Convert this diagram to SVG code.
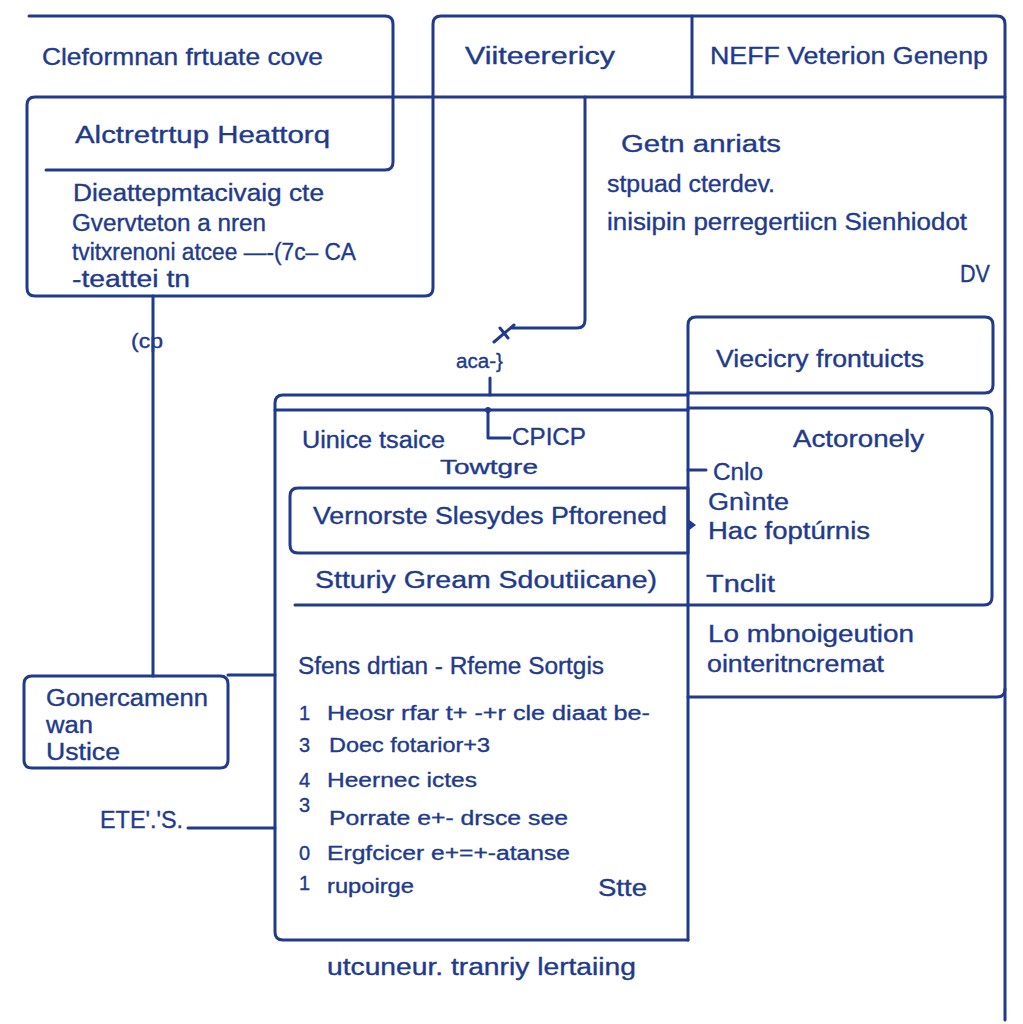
<svg xmlns="http://www.w3.org/2000/svg" width="1023" height="1024" viewBox="0 0 1023 1024">
<style>
.l{fill:none;stroke:#213a8c;stroke-width:3;stroke-linecap:round;stroke-linejoin:round}
.t{font-family:"Liberation Sans",Arial,sans-serif;fill:#213a8c;font-size:23px;stroke:#213a8c;stroke-width:0.35}
.s{font-size:20px}
.b{font-size:24px}
</style>
<rect width="1023" height="1024" fill="#fff"/>
<g id="connectors" class="l">
<path d="M29 16 H385 Q393 16 393 24 V162 Q393 170 385 170 H46"/>
<path d="M433 97 H1005"/>
<path d="M433 97 V24 Q433 16 441 16 H997 Q1005 16 1005 24 V1020"/>
<path d="M692 16 V97"/>
<path d="M585 97 V320 Q585 328 577 328 H512"/>
<path d="M494 342 L514 325"/>
<path d="M500 328 L508 338"/>
<path d="M153 296 V676"/>
<path d="M490 378 V395"/>
<path d="M488 410 V438 H510"/>
<path d="M228 675 H275"/>
<path d="M188 828 H275"/>
<path d="M688 470 H706"/>
<path d="M688 393 V940"/>
<path d="M688 697 H997 Q1005 697 1005 689"/>
<path d="M295 605 H688"/>
</g>
<circle cx="488" cy="410" r="3" fill="#213a8c"/>
<path d="M688 519 L696 525 L688 531 Z" fill="#213a8c"/>
<g id="n1"><text class="t b" x="42" y="65" textLength="281" lengthAdjust="spacingAndGlyphs">Cleformnan frtuate cove</text></g>
<g id="n2"><path class="l" d="M35 97 H433 V288 Q433 296 425 296 H35 Q27 296 27 288 V105 Q27 97 35 97"/>
<text class="t" x="75" y="143" textLength="255" lengthAdjust="spacingAndGlyphs">Alctretrtup Heattorq</text>
<text class="t" x="73" y="201" textLength="251" lengthAdjust="spacingAndGlyphs">Dieattepmtacivaig cte</text>
<text class="t" x="72" y="231" textLength="194" lengthAdjust="spacingAndGlyphs">Gvervteton a nren</text>
<text class="t" x="72" y="260" textLength="284" lengthAdjust="spacingAndGlyphs">tvitxrenoni atcee —-(7c– CA</text>
<text class="t" x="72" y="287" textLength="118" lengthAdjust="spacingAndGlyphs">-teattei tn</text></g>
<g id="n3"><text class="t" x="465" y="64" textLength="150" lengthAdjust="spacingAndGlyphs">Viiteerericy</text></g>
<g id="n4"><text class="t" x="710" y="64" textLength="278" lengthAdjust="spacingAndGlyphs">NEFF Veterion Genenp</text></g>
<g id="n5"><text class="t" x="621" y="152" textLength="160" lengthAdjust="spacingAndGlyphs">Getn anriats</text>
<text class="t" x="607" y="192" textLength="168" lengthAdjust="spacingAndGlyphs">stpuad cterdev.</text>
<text class="t" x="607" y="230" textLength="360" lengthAdjust="spacingAndGlyphs">inisipin perregertiicn Sienhiodot</text>
<text class="t b" x="960" y="282" textLength="30" lengthAdjust="spacingAndGlyphs">DV</text></g>
<g id="labels"><text class="t s" x="131" y="348" textLength="32" lengthAdjust="spacingAndGlyphs">(cp</text>
<text class="t s" x="456" y="368" textLength="47" lengthAdjust="spacingAndGlyphs">aca-}</text>
<text class="t" x="100" y="828" textLength="83" lengthAdjust="spacingAndGlyphs">ETE'.'S.</text></g>
<g id="n6"><path class="l" d="M688 393 V325 Q688 317 696 317 H985 Q993 317 993 325 V385 Q993 393 985 393 H688"/>
<text class="t" x="716" y="367" textLength="208" lengthAdjust="spacingAndGlyphs">Viecicry frontuicts</text></g>
<g id="n7"><path class="l" d="M688 940 H283 Q275 940 275 932 V403 Q275 395 283 395 H688"/>
<path class="l" d="M275 410 H688"/>
<text class="t" x="302" y="448" textLength="143" lengthAdjust="spacingAndGlyphs">Uinice tsaice</text>
<text class="t" x="512" y="445" textLength="74" lengthAdjust="spacingAndGlyphs">CPICP</text>
<text class="t s" x="440" y="474" textLength="98" lengthAdjust="spacingAndGlyphs">Towtgre</text>
<text class="t" x="315" y="588" textLength="342" lengthAdjust="spacingAndGlyphs">Stturiy  Gream Sdoutiicane)</text>
<text class="t" x="298" y="674" textLength="306" lengthAdjust="spacingAndGlyphs">Sfens drtian - Rfeme Sortgis</text>
<g class="t s">
<text x="299" y="720">1</text><text x="327" y="720" textLength="323" lengthAdjust="spacingAndGlyphs">Heosr rfar t+ -+r cle diaat be-</text>
<text x="299" y="752">3</text><text x="329" y="752" textLength="161" lengthAdjust="spacingAndGlyphs">Doec fotarior+3</text>
<text x="299" y="787">4</text><text x="327" y="787" textLength="150" lengthAdjust="spacingAndGlyphs">Heernec ictes</text>
<text x="299" y="812">3</text><text x="329" y="825" textLength="239" lengthAdjust="spacingAndGlyphs">Porrate e+- drsce see</text>
<text x="299" y="860">0</text><text x="327" y="860" textLength="243" lengthAdjust="spacingAndGlyphs">Ergfcicer e+=+-atanse</text>
<text x="299" y="890">1</text><text x="327" y="893" textLength="87" lengthAdjust="spacingAndGlyphs">rupoirge</text>
</g>
<text class="t" x="598" y="896" textLength="49" lengthAdjust="spacingAndGlyphs">Stte</text></g>
<g id="n8"><path class="l" d="M298 488 H688 V553 H298 Q290 553 290 545 V496 Q290 488 298 488"/>
<text class="t" x="313" y="524" textLength="354" lengthAdjust="spacingAndGlyphs">Vernorste Slesydes Pftorened</text></g>
<g id="n9"><path class="l" d="M688 408 H984 Q992 408 992 416 V597 Q992 605 984 605 H688"/>
<text class="t" x="793" y="447" textLength="131" lengthAdjust="spacingAndGlyphs">Actoronely</text>
<text class="t" x="713" y="480" textLength="50" lengthAdjust="spacingAndGlyphs">Cnlo</text>
<text class="t" x="708" y="510" textLength="81" lengthAdjust="spacingAndGlyphs">Gnìnte</text>
<text class="t" x="708" y="539" textLength="162" lengthAdjust="spacingAndGlyphs">Hac foptúrnis</text>
<text class="t" x="706" y="592" textLength="69" lengthAdjust="spacingAndGlyphs">Tnclit</text></g>
<g id="n10"><text class="t" x="708" y="642" textLength="206" lengthAdjust="spacingAndGlyphs">Lo mbnoigeution</text>
<text class="t" x="707" y="672" textLength="177" lengthAdjust="spacingAndGlyphs">ointeritncremat</text></g>
<g id="n11"><path class="l" d="M32 676 H220 Q228 676 228 684 V760 Q228 768 220 768 H32 Q24 768 24 760 V684 Q24 676 32 676"/>
<text class="t" x="46" y="706" textLength="162" lengthAdjust="spacingAndGlyphs">Gonercamenn</text>
<text class="t" x="46" y="733" textLength="47" lengthAdjust="spacingAndGlyphs">wan</text>
<text class="t" x="46" y="760" textLength="74" lengthAdjust="spacingAndGlyphs">Ustice</text></g>
<g id="footer"><text class="t" x="327" y="975" textLength="309" lengthAdjust="spacingAndGlyphs">utcuneur. tranriy lertaiing</text></g>
</svg>
